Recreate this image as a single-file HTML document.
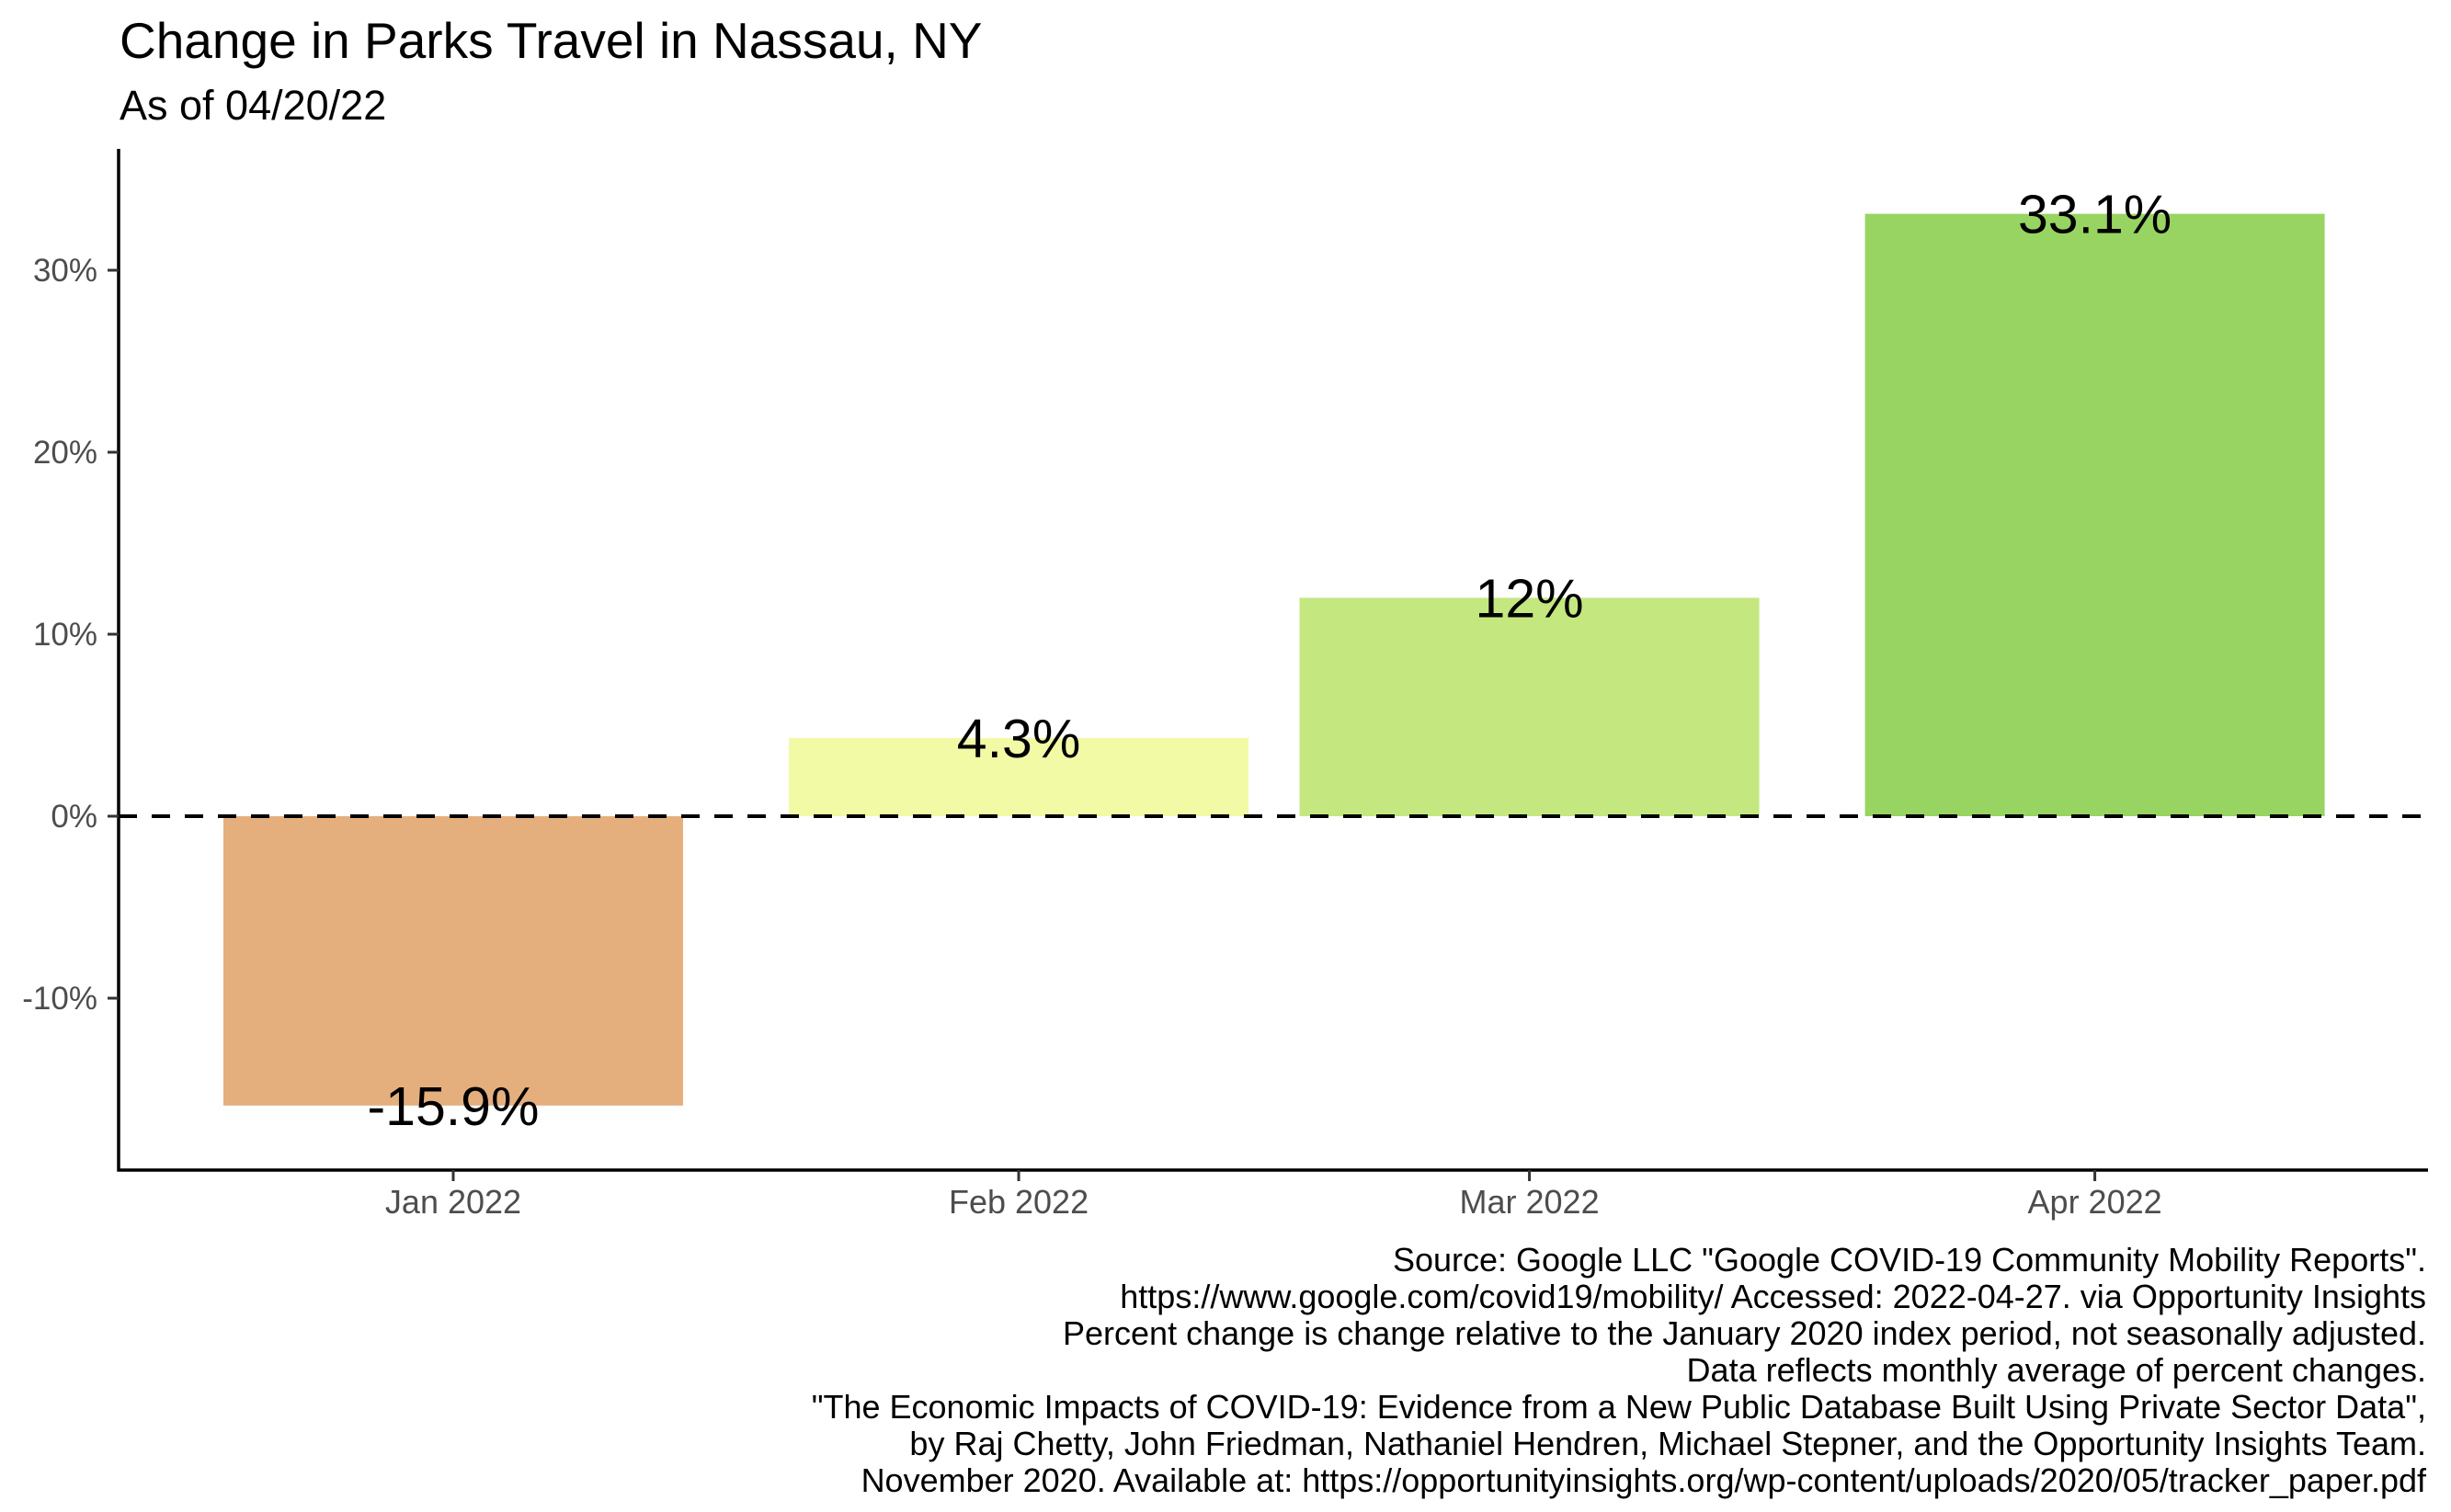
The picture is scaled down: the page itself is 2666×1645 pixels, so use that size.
<!DOCTYPE html>
<html><head><meta charset="utf-8"><style>
html,body{margin:0;padding:0;background:#fff;}
svg{display:block;font-family:"Liberation Sans",Arial,sans-serif;}
</style></head><body>
<svg id="chart" width="2666" height="1645" viewBox="0 0 2666 1645">
<text x="130" y="63" font-size="55" fill="#000">Change in Parks Travel in Nassau, NY</text>
<text x="130" y="130" font-size="45" fill="#000">As of 04/20/22</text>
<g id="bars"></g>
<g id="yaxis"></g>
<g id="xaxis"></g>
<g id="footer" font-size="36" fill="#000" text-anchor="end"></g>
</svg>
<script>
const categories = ["2022-01-15","2022-02-15","2022-03-15","2022-04-15"];
const tickLabels = ["Jan 2022","Feb 2022","Mar 2022","Apr 2022"];
const values = [-15.9, 4.3, 12.0, 33.1];
const valueLabels = ["-15.9%","4.3%","12%","33.1%"];
const barColors = ["#E5AF7D","#F2FAA6","#C4E780","#98D461"];
const yTicks = [-10, 0, 10, 20, 30];
const captionLines = [
 'Source: Google LLC "Google COVID-19 Community Mobility Reports".',
 'https://www.google.com/covid19/mobility/ Accessed: 2022-04-27. via Opportunity Insights',
 'Percent change is change relative to the January 2020 index period, not seasonally adjusted.',
 'Data reflects monthly average of percent changes.',
 '"The Economic Impacts of COVID-19: Evidence from a New Public Database Built Using Private Sector Data",',
 'by Raj Chetty, John Friedman, Nathaniel Hendren, Michael Stepner, and the Opportunity Insights Team.',
 'November 2020. Available at: https://opportunityinsights.org/wp-content/uploads/2020/05/tracker_paper.pdf'
];

const NS = "http://www.w3.org/2000/svg";
const L = 129, R = 2641, T = 162, B = 1273;
const day0 = Date.parse("2022-01-15");
const pxPerDay = 19.84;
function xScale(d){ return 493 + (Date.parse(d) - day0) / 86400000 * pxPerDay; }
function yScale(v){ return 888 - v * 19.8; }
const barW = 500;
function mk(tag, attrs, parent){ const e = document.createElementNS(NS, tag); for (const k in attrs) e.setAttribute(k, attrs[k]); parent.appendChild(e); return e; }

const gb = document.getElementById("bars");
categories.forEach((c, i) => {
  const cx = xScale(c), y0 = yScale(0), y1 = yScale(values[i]);
  const r = mk("rect", {x: cx - barW/2, y: Math.min(y0, y1), width: barW, height: Math.abs(y1 - y0), fill: barColors[i]}, gb);
  
  
});
const zl = mk("line", {x1: L, x2: R, y1: yScale(0), y2: yScale(0), stroke: "#000", "stroke-width": 4, "stroke-dasharray": "20 16"}, gb);


categories.forEach((c, i) => {
  const t = mk("text", {x: xScale(c), y: yScale(values[i]) + 21, "font-size": 59, "text-anchor": "middle", fill: "#000"}, gb);
  t.textContent = valueLabels[i];
  
  
});

const gy = document.getElementById("yaxis");
mk("line", {x1: L, x2: L, y1: T, y2: B + 1.5, stroke: "#000", "stroke-width": 3.5}, gy);
yTicks.forEach(v => {
  const y = yScale(v);
  mk("line", {x1: L - 12, x2: L, y1: y, y2: y, stroke: "#333", "stroke-width": 3}, gy);
  const t = mk("text", {x: L - 23, y: y + 12, "font-size": 35, "text-anchor": "end", fill: "#4d4d4d"}, gy);
  t.textContent = v + "%";
  
  
});

const gx = document.getElementById("xaxis");
mk("line", {x1: L - 1.5, x2: R, y1: B, y2: B, stroke: "#000", "stroke-width": 3.5}, gx);
categories.forEach((c, i) => {
  const x = xScale(c);
  mk("line", {x1: x, x2: x, y1: B, y2: B + 12, stroke: "#333", "stroke-width": 3}, gx);
  const t = mk("text", {x: x, y: 1320, "font-size": 36, "text-anchor": "middle", fill: "#4d4d4d"}, gx);
  t.textContent = tickLabels[i];
  
  
});

const gf = document.getElementById("footer");
captionLines.forEach((s, i) => {
  const t = mk("text", {x: 2639, y: 1383 + i * 40}, gf);
  t.textContent = s;
  
  
});
</script>
</body></html>
